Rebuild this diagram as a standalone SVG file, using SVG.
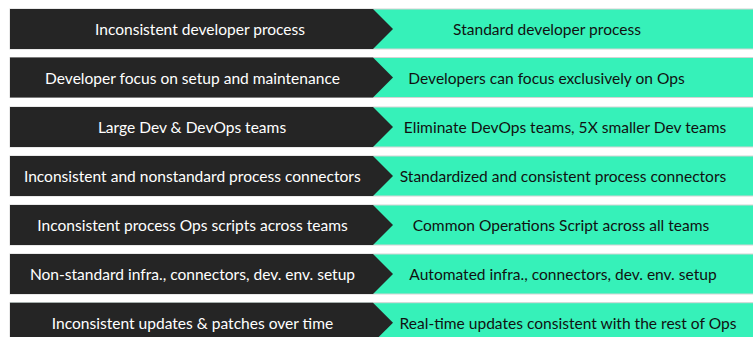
<svg xmlns="http://www.w3.org/2000/svg" width="753" height="337" viewBox="0 0 753 337">
<style>
.bg{fill:#36f1b9;stroke:#d4d4d4;stroke-width:1}
.dk{fill:#252525}
.tl{font-family:Lato,"Liberation Sans",sans-serif;font-size:15.55px;fill:#ffffff;text-anchor:middle}
.tr{font-family:Lato,"Liberation Sans",sans-serif;font-size:15.55px;fill:#111111;text-anchor:middle}
</style>
<rect width="753" height="337" fill="#ffffff"/>
<g id="row1">
<rect class="bg" x="10" y="9" width="744" height="40"/>
<polygon class="dk" points="10,9 373,9 393,29 373,49 10,49"/>
<text class="tl" x="200" y="35">Inconsistent developer process</text>
<text class="tr" x="547" y="35">Standard developer process</text>
</g>
<g id="row2">
<rect class="bg" x="10" y="57.5" width="744" height="40"/>
<polygon class="dk" points="10,57.5 373,57.5 393,77.5 373,97.5 10,97.5"/>
<text class="tl" x="192.5" y="83.5">Developer focus on setup and maintenance</text>
<text class="tr" x="546.5" y="83.5">Developers can focus exclusively on Ops</text>
</g>
<g id="row3">
<rect class="bg" x="10" y="107" width="744" height="40"/>
<polygon class="dk" points="10,107 373,107 393,127 373,147 10,147"/>
<text class="tl" x="192" y="133">Large Dev &amp; DevOps teams</text>
<text class="tr" x="565" y="133">Eliminate DevOps teams, 5X smaller Dev teams</text>
</g>
<g id="row4">
<rect class="bg" x="10" y="156" width="744" height="40"/>
<polygon class="dk" points="10,156 373,156 393,176 373,196 10,196"/>
<text class="tl" x="192.3" y="182">Inconsistent and nonstandard process connectors</text>
<text class="tr" x="563" y="182">Standardized and consistent process connectors</text>
</g>
<g id="row5">
<rect class="bg" x="10" y="205" width="744" height="40"/>
<polygon class="dk" points="10,205 373,205 393,225 373,245 10,245"/>
<text class="tl" x="192.5" y="231">Inconsistent process Ops scripts across teams</text>
<text class="tr" x="561" y="231">Common Operations Script across all teams</text>
</g>
<g id="row6">
<rect class="bg" x="10" y="254" width="744" height="40"/>
<polygon class="dk" points="10,254 373,254 393,274 373,294 10,294"/>
<text class="tl" x="192.5" y="280">Non-standard infra., connectors, dev. env. setup</text>
<text class="tr" x="563" y="280">Automated infra., connectors, dev. env. setup</text>
</g>
<g id="row7">
<rect class="bg" x="10" y="302.7" width="744" height="40"/>
<polygon class="dk" points="10,302.7 373,302.7 393,322.7 373,342.7 10,342.7"/>
<text class="tl" x="192.5" y="328.7">Inconsistent updates &amp; patches over time</text>
<text class="tr" x="568" y="328.7">Real-time updates consistent with the rest of Ops</text>
</g>
<g id="connectors"/>
</svg>
